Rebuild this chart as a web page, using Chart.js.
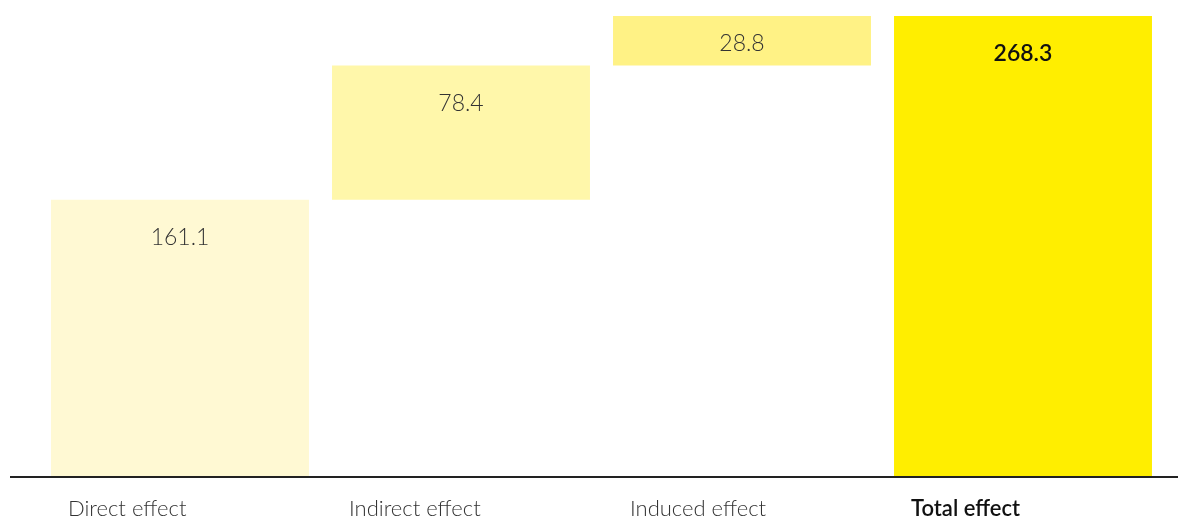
<!DOCTYPE html>
<html>
<head>
<meta charset="utf-8">
<script src="https://cdn.jsdelivr.net/npm/chart.js@4"></script>
<style>
  html, body { margin: 0; padding: 0; background: #fff; }
  #wrap { width: 1178px; height: 517px; }
</style>
</head>
<body>
<div id="wrap"><canvas id="chart"></canvas></div>
<script>
const categories = ['Direct effect', 'Indirect effect', 'Induced effect', 'Total effect'];
const values = [161.1, 78.4, 28.8, 268.3];
const bases = [0, 161.1, 239.5, 0];
const barColors = ['#fff9d3', '#fff7aa', '#fff285', '#ffee00'];

const FONT = 'Lato, "Open Sans", sans-serif';

// Floating segments for the waterfall
const segments = values.map((v, i) => [bases[i], bases[i] + v]);

// Value labels inside each bar, near the top
const valueLabels = {
  id: 'valueLabels',
  afterDatasetsDraw(chart) {
    const ctx = chart.ctx;
    const meta = chart.getDatasetMeta(0);
    ctx.save();
    ctx.textAlign = 'center';
    ctx.textBaseline = 'middle';
    meta.data.forEach((bar, i) => {
      const isTotal = i === values.length - 1;
      const top = Math.min(bar.y, bar.base);
      const h = Math.abs(bar.base - bar.y);
      const y = top + Math.min(38, h / 2 + 3);
      ctx.font = (isTotal ? '600 ' : '300 ') + '23px ' + FONT;
      ctx.fillStyle = isTotal ? '#111' : '#333';
      ctx.fillText(values[i].toFixed(1), bar.x, y);
    });
    ctx.restore();
  }
};

// Baseline running across the full width
const baseline = {
  id: 'baseline',
  afterDatasetsDraw(chart) {
    const ctx = chart.ctx;
    const y = chart.scales.y.getPixelForValue(0) + 1;
    ctx.save();
    ctx.strokeStyle = '#222';
    ctx.lineWidth = 2;
    ctx.beginPath();
    ctx.moveTo(10, y);
    ctx.lineTo(chart.width, y);
    ctx.stroke();
    ctx.restore();
  }
};

new Chart(document.getElementById('chart'), {
  type: 'bar',
  data: {
    labels: categories,
    datasets: [{
      data: segments,
      backgroundColor: barColors,
      borderWidth: 0,
      categoryPercentage: 1,
      barPercentage: 0.918
    }]
  },
  options: {
    responsive: true,
    maintainAspectRatio: false,
    animation: false,
    layout: { padding: { left: 39.5, right: 14.5, top: 16, bottom: 0 } },
    plugins: {
      legend: { display: false },
      tooltip: { enabled: false }
    },
    scales: {
      y: {
        display: false,
        min: 0,
        max: 268.3
      },
      x: {
        grid: { display: false, drawTicks: false },
        border: { display: false },
        afterFit(scale) { scale.height = 41; },
        ticks: {
          align: 'start',
          labelOffset: -112,
          padding: 20,
          maxRotation: 0,
          color: ctx => ctx.index === 3 ? '#111' : '#333',
          font: ctx => ({
            family: FONT,
            size: 22,
            weight: ctx.index === 3 ? '600' : '300'
          })
        }
      }
    }
  },
  plugins: [valueLabels, baseline]
});
</script>
</body>
</html>
